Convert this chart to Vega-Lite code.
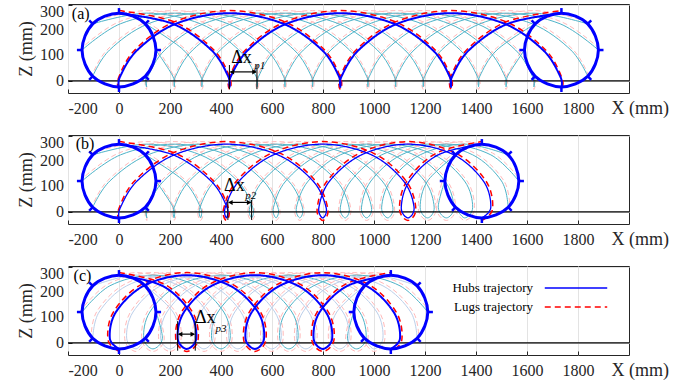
{
"$schema":"https://vega.github.io/schema/vega-lite/v6.json",
"autosize":{"type":"pad"},
"padding":{"left":16,"top":3,"right":0,"bottom":0},
"background":"white",
"bounds":"flush",
"spacing":42,
"resolve":{"scale":{"color":"independent","strokeDash":"independent"},"legend":{"color":"independent","strokeDash":"independent"}},
"config":{
 "font":"Liberation Serif",
 "view":{"stroke":"#262626","strokeWidth":1},
 "axis":{"domain":false,"grid":true,"gridColor":"#e3e3e3","tickColor":"#262626","tickSize":-4,"labelOverlap":false,"labelFont":"Liberation Serif","labelFontSize":16,"labelColor":"#262626","titleFont":"Liberation Serif","titleFontSize":18,"titleFontWeight":"normal","titleColor":"#262626"},
 "axisX":{"labelPadding":11},
 "axisY":{"labelPadding":8},
 "text":{"font":"Liberation Serif"}
},
"datasets":{
"yl":[{"v":0},{"v":100},{"v":200}],
"ah":[
{"j":0,"x":0,"z":-24},{"j":0,"x":5,"z":18},{"j":0,"x":72,"z":121},{"j":0,"x":222,"z":224},{"j":0,"x":434,"z":266},{"j":0,"x":645,"z":224},{"j":0,"x":796,"z":121},{"j":0,"x":862,"z":18},{"j":0,"x":868,"z":-24},{"j":0,"x":873,"z":18},{"j":0,"x":940,"z":121},{"j":0,"x":1090,"z":224},{"j":0,"x":1302,"z":266},{"j":0,"x":1513,"z":224},{"j":0,"x":1663,"z":121},{"j":0,"x":1730,"z":18},{"j":0,"x":1735,"z":-24},
{"j":1,"x":-103,"z":18},{"j":1,"x":-37,"z":121},{"j":1,"x":114,"z":224},{"j":1,"x":325,"z":266},{"j":1,"x":537,"z":224},{"j":1,"x":687,"z":121},{"j":1,"x":754,"z":18},{"j":1,"x":759,"z":-24},{"j":1,"x":765,"z":18},{"j":1,"x":831,"z":121},{"j":1,"x":982,"z":224},{"j":1,"x":1193,"z":266},{"j":1,"x":1405,"z":224},{"j":1,"x":1555,"z":121},{"j":1,"x":1621,"z":18},{"j":1,"x":1627,"z":-24},{"j":1,"x":1632,"z":18},
{"j":2,"x":-145,"z":121},{"j":2,"x":5,"z":224},{"j":2,"x":217,"z":266},{"j":2,"x":428,"z":224},{"j":2,"x":579,"z":121},{"j":2,"x":645,"z":18},{"j":2,"x":651,"z":-24},{"j":2,"x":656,"z":18},{"j":2,"x":723,"z":121},{"j":2,"x":873,"z":224},{"j":2,"x":1085,"z":266},{"j":2,"x":1296,"z":224},{"j":2,"x":1447,"z":121},{"j":2,"x":1513,"z":18},{"j":2,"x":1518,"z":-24},{"j":2,"x":1524,"z":18},{"j":2,"x":1590,"z":121},
{"j":3,"x":-103,"z":224},{"j":3,"x":108,"z":266},{"j":3,"x":320,"z":224},{"j":3,"x":470,"z":121},{"j":3,"x":537,"z":18},{"j":3,"x":542,"z":-24},{"j":3,"x":548,"z":18},{"j":3,"x":614,"z":121},{"j":3,"x":765,"z":224},{"j":3,"x":976,"z":266},{"j":3,"x":1188,"z":224},{"j":3,"x":1338,"z":121},{"j":3,"x":1405,"z":18},{"j":3,"x":1410,"z":-24},{"j":3,"x":1415,"z":18},{"j":3,"x":1482,"z":121},{"j":3,"x":1632,"z":224},
{"j":4,"x":0,"z":266},{"j":4,"x":211,"z":224},{"j":4,"x":362,"z":121},{"j":4,"x":428,"z":18},{"j":4,"x":434,"z":-24},{"j":4,"x":439,"z":18},{"j":4,"x":506,"z":121},{"j":4,"x":656,"z":224},{"j":4,"x":868,"z":266},{"j":4,"x":1079,"z":224},{"j":4,"x":1230,"z":121},{"j":4,"x":1296,"z":18},{"j":4,"x":1302,"z":-24},{"j":4,"x":1307,"z":18},{"j":4,"x":1373,"z":121},{"j":4,"x":1524,"z":224},{"j":4,"x":1735,"z":266},
{"j":5,"x":103,"z":224},{"j":5,"x":253,"z":121},{"j":5,"x":320,"z":18},{"j":5,"x":325,"z":-24},{"j":5,"x":331,"z":18},{"j":5,"x":397,"z":121},{"j":5,"x":548,"z":224},{"j":5,"x":759,"z":266},{"j":5,"x":971,"z":224},{"j":5,"x":1121,"z":121},{"j":5,"x":1188,"z":18},{"j":5,"x":1193,"z":-24},{"j":5,"x":1199,"z":18},{"j":5,"x":1265,"z":121},{"j":5,"x":1415,"z":224},{"j":5,"x":1627,"z":266},{"j":5,"x":1838,"z":224},
{"j":6,"x":145,"z":121},{"j":6,"x":211,"z":18},{"j":6,"x":217,"z":-24},{"j":6,"x":222,"z":18},{"j":6,"x":289,"z":121},{"j":6,"x":439,"z":224},{"j":6,"x":651,"z":266},{"j":6,"x":862,"z":224},{"j":6,"x":1013,"z":121},{"j":6,"x":1079,"z":18},{"j":6,"x":1085,"z":-24},{"j":6,"x":1090,"z":18},{"j":6,"x":1157,"z":121},{"j":6,"x":1307,"z":224},{"j":6,"x":1518,"z":266},{"j":6,"x":1730,"z":224},{"j":6,"x":1880,"z":121},
{"j":7,"x":103,"z":18},{"j":7,"x":108,"z":-24},{"j":7,"x":114,"z":18},{"j":7,"x":180,"z":121},{"j":7,"x":331,"z":224},{"j":7,"x":542,"z":266},{"j":7,"x":754,"z":224},{"j":7,"x":904,"z":121},{"j":7,"x":971,"z":18},{"j":7,"x":976,"z":-24},{"j":7,"x":982,"z":18},{"j":7,"x":1048,"z":121},{"j":7,"x":1199,"z":224},{"j":7,"x":1410,"z":266},{"j":7,"x":1621,"z":224},{"j":7,"x":1772,"z":121},{"j":7,"x":1838,"z":18}
],
"al":[
{"j":0,"x":0,"z":-34},{"j":0,"x":-2,"z":11},{"j":0,"x":62,"z":121},{"j":0,"x":215,"z":231},{"j":0,"x":434,"z":276},{"j":0,"x":652,"z":231},{"j":0,"x":806,"z":121},{"j":0,"x":869,"z":11},{"j":0,"x":868,"z":-34},{"j":0,"x":866,"z":11},{"j":0,"x":930,"z":121},{"j":0,"x":1083,"z":231},{"j":0,"x":1302,"z":276},{"j":0,"x":1520,"z":231},{"j":0,"x":1673,"z":121},{"j":0,"x":1737,"z":11},{"j":0,"x":1735,"z":-34},
{"j":1,"x":-110,"z":11},{"j":1,"x":-47,"z":121},{"j":1,"x":107,"z":231},{"j":1,"x":325,"z":276},{"j":1,"x":544,"z":231},{"j":1,"x":697,"z":121},{"j":1,"x":761,"z":11},{"j":1,"x":759,"z":-34},{"j":1,"x":758,"z":11},{"j":1,"x":821,"z":121},{"j":1,"x":975,"z":231},{"j":1,"x":1193,"z":276},{"j":1,"x":1412,"z":231},{"j":1,"x":1565,"z":121},{"j":1,"x":1628,"z":11},{"j":1,"x":1627,"z":-34},{"j":1,"x":1625,"z":11},
{"j":2,"x":-155,"z":121},{"j":2,"x":-2,"z":231},{"j":2,"x":217,"z":276},{"j":2,"x":435,"z":231},{"j":2,"x":589,"z":121},{"j":2,"x":652,"z":11},{"j":2,"x":651,"z":-34},{"j":2,"x":649,"z":11},{"j":2,"x":713,"z":121},{"j":2,"x":866,"z":231},{"j":2,"x":1085,"z":276},{"j":2,"x":1303,"z":231},{"j":2,"x":1457,"z":121},{"j":2,"x":1520,"z":11},{"j":2,"x":1518,"z":-34},{"j":2,"x":1517,"z":11},{"j":2,"x":1580,"z":121},
{"j":3,"x":-110,"z":231},{"j":3,"x":108,"z":276},{"j":3,"x":327,"z":231},{"j":3,"x":480,"z":121},{"j":3,"x":544,"z":11},{"j":3,"x":542,"z":-34},{"j":3,"x":541,"z":11},{"j":3,"x":604,"z":121},{"j":3,"x":758,"z":231},{"j":3,"x":976,"z":276},{"j":3,"x":1195,"z":231},{"j":3,"x":1348,"z":121},{"j":3,"x":1412,"z":11},{"j":3,"x":1410,"z":-34},{"j":3,"x":1408,"z":11},{"j":3,"x":1472,"z":121},{"j":3,"x":1625,"z":231},
{"j":4,"x":0,"z":276},{"j":4,"x":218,"z":231},{"j":4,"x":372,"z":121},{"j":4,"x":435,"z":11},{"j":4,"x":434,"z":-34},{"j":4,"x":432,"z":11},{"j":4,"x":496,"z":121},{"j":4,"x":649,"z":231},{"j":4,"x":868,"z":276},{"j":4,"x":1086,"z":231},{"j":4,"x":1240,"z":121},{"j":4,"x":1303,"z":11},{"j":4,"x":1302,"z":-34},{"j":4,"x":1300,"z":11},{"j":4,"x":1363,"z":121},{"j":4,"x":1517,"z":231},{"j":4,"x":1735,"z":276},
{"j":5,"x":110,"z":231},{"j":5,"x":263,"z":121},{"j":5,"x":327,"z":11},{"j":5,"x":325,"z":-34},{"j":5,"x":324,"z":11},{"j":5,"x":387,"z":121},{"j":5,"x":541,"z":231},{"j":5,"x":759,"z":276},{"j":5,"x":978,"z":231},{"j":5,"x":1131,"z":121},{"j":5,"x":1195,"z":11},{"j":5,"x":1193,"z":-34},{"j":5,"x":1192,"z":11},{"j":5,"x":1255,"z":121},{"j":5,"x":1408,"z":231},{"j":5,"x":1627,"z":276},{"j":5,"x":1845,"z":231},
{"j":6,"x":155,"z":121},{"j":6,"x":218,"z":11},{"j":6,"x":217,"z":-34},{"j":6,"x":215,"z":11},{"j":6,"x":279,"z":121},{"j":6,"x":432,"z":231},{"j":6,"x":651,"z":276},{"j":6,"x":869,"z":231},{"j":6,"x":1023,"z":121},{"j":6,"x":1086,"z":11},{"j":6,"x":1085,"z":-34},{"j":6,"x":1083,"z":11},{"j":6,"x":1147,"z":121},{"j":6,"x":1300,"z":231},{"j":6,"x":1518,"z":276},{"j":6,"x":1737,"z":231},{"j":6,"x":1890,"z":121},
{"j":7,"x":110,"z":11},{"j":7,"x":108,"z":-34},{"j":7,"x":107,"z":11},{"j":7,"x":170,"z":121},{"j":7,"x":324,"z":231},{"j":7,"x":542,"z":276},{"j":7,"x":761,"z":231},{"j":7,"x":914,"z":121},{"j":7,"x":978,"z":11},{"j":7,"x":976,"z":-34},{"j":7,"x":975,"z":11},{"j":7,"x":1038,"z":121},{"j":7,"x":1192,"z":231},{"j":7,"x":1410,"z":276},{"j":7,"x":1628,"z":231},{"j":7,"x":1782,"z":121},{"j":7,"x":1845,"z":11}
],
"bh":[
{"j":0,"x":0,"z":-24},{"j":0,"x":6,"z":18},{"j":0,"x":71,"z":121},{"j":0,"x":217,"z":224},{"j":0,"x":421,"z":266},{"j":0,"x":623,"z":224},{"j":0,"x":761,"z":121},{"j":0,"x":812,"z":18},{"j":0,"x":799,"z":-24},{"j":0,"x":784,"z":18},{"j":0,"x":826,"z":121},{"j":0,"x":951,"z":224},{"j":0,"x":1133,"z":266},{"j":0,"x":1313,"z":224},{"j":0,"x":1429,"z":121},{"j":0,"x":1458,"z":18},{"j":0,"x":1423,"z":-24},
{"j":1,"x":-103,"z":18},{"j":1,"x":-36,"z":121},{"j":1,"x":113,"z":224},{"j":1,"x":320,"z":266},{"j":1,"x":524,"z":224},{"j":1,"x":665,"z":121},{"j":1,"x":719,"z":18},{"j":1,"x":709,"z":-24},{"j":1,"x":696,"z":18},{"j":1,"x":742,"z":121},{"j":1,"x":868,"z":224},{"j":1,"x":1054,"z":266},{"j":1,"x":1236,"z":224},{"j":1,"x":1355,"z":121},{"j":1,"x":1387,"z":18},{"j":1,"x":1355,"z":-24},{"j":1,"x":1320,"z":18},
{"j":2,"x":-145,"z":121},{"j":2,"x":6,"z":224},{"j":2,"x":216,"z":266},{"j":2,"x":423,"z":224},{"j":2,"x":566,"z":121},{"j":2,"x":623,"z":18},{"j":2,"x":616,"z":-24},{"j":2,"x":606,"z":18},{"j":2,"x":654,"z":121},{"j":2,"x":784,"z":224},{"j":2,"x":971,"z":266},{"j":2,"x":1157,"z":224},{"j":2,"x":1278,"z":121},{"j":2,"x":1313,"z":18},{"j":2,"x":1284,"z":-24},{"j":2,"x":1252,"z":18},{"j":2,"x":1278,"z":121},
{"j":3,"x":-103,"z":224},{"j":3,"x":109,"z":266},{"j":3,"x":319,"z":224},{"j":3,"x":465,"z":121},{"j":3,"x":524,"z":18},{"j":3,"x":520,"z":-24},{"j":3,"x":513,"z":18},{"j":3,"x":564,"z":121},{"j":3,"x":696,"z":224},{"j":3,"x":887,"z":266},{"j":3,"x":1074,"z":224},{"j":3,"x":1199,"z":121},{"j":3,"x":1236,"z":18},{"j":3,"x":1210,"z":-24},{"j":3,"x":1181,"z":18},{"j":3,"x":1210,"z":121},{"j":3,"x":1320,"z":224},
{"j":4,"x":0,"z":266},{"j":4,"x":212,"z":224},{"j":4,"x":361,"z":121},{"j":4,"x":423,"z":18},{"j":4,"x":421,"z":-24},{"j":4,"x":417,"z":18},{"j":4,"x":471,"z":121},{"j":4,"x":606,"z":224},{"j":4,"x":799,"z":266},{"j":4,"x":990,"z":224},{"j":4,"x":1116,"z":121},{"j":4,"x":1157,"z":18},{"j":4,"x":1133,"z":-24},{"j":4,"x":1107,"z":18},{"j":4,"x":1139,"z":121},{"j":4,"x":1252,"z":224},{"j":4,"x":1423,"z":266},
{"j":5,"x":103,"z":224},{"j":5,"x":254,"z":121},{"j":5,"x":319,"z":18},{"j":5,"x":320,"z":-24},{"j":5,"x":318,"z":18},{"j":5,"x":375,"z":121},{"j":5,"x":513,"z":224},{"j":5,"x":709,"z":266},{"j":5,"x":902,"z":224},{"j":5,"x":1032,"z":121},{"j":5,"x":1074,"z":18},{"j":5,"x":1054,"z":-24},{"j":5,"x":1030,"z":18},{"j":5,"x":1065,"z":121},{"j":5,"x":1181,"z":224},{"j":5,"x":1355,"z":266},{"j":5,"x":1526,"z":224},
{"j":6,"x":145,"z":121},{"j":6,"x":212,"z":18},{"j":6,"x":216,"z":-24},{"j":6,"x":217,"z":18},{"j":6,"x":276,"z":121},{"j":6,"x":417,"z":224},{"j":6,"x":616,"z":266},{"j":6,"x":812,"z":224},{"j":6,"x":944,"z":121},{"j":6,"x":990,"z":18},{"j":6,"x":971,"z":-24},{"j":6,"x":951,"z":18},{"j":6,"x":988,"z":121},{"j":6,"x":1107,"z":224},{"j":6,"x":1284,"z":266},{"j":6,"x":1458,"z":224},{"j":6,"x":1568,"z":121},
{"j":7,"x":103,"z":18},{"j":7,"x":109,"z":-24},{"j":7,"x":113,"z":18},{"j":7,"x":175,"z":121},{"j":7,"x":318,"z":224},{"j":7,"x":520,"z":266},{"j":7,"x":719,"z":224},{"j":7,"x":854,"z":121},{"j":7,"x":902,"z":18},{"j":7,"x":887,"z":-24},{"j":7,"x":868,"z":18},{"j":7,"x":909,"z":121},{"j":7,"x":1030,"z":224},{"j":7,"x":1210,"z":266},{"j":7,"x":1387,"z":224},{"j":7,"x":1500,"z":121},{"j":7,"x":1526,"z":18}
],
"bl":[
{"j":0,"x":0,"z":-34},{"j":0,"x":-1,"z":11},{"j":0,"x":61,"z":121},{"j":0,"x":210,"z":231},{"j":0,"x":421,"z":276},{"j":0,"x":630,"z":231},{"j":0,"x":771,"z":121},{"j":0,"x":819,"z":11},{"j":0,"x":799,"z":-34},{"j":0,"x":777,"z":11},{"j":0,"x":816,"z":121},{"j":0,"x":944,"z":231},{"j":0,"x":1133,"z":276},{"j":0,"x":1320,"z":231},{"j":0,"x":1439,"z":121},{"j":0,"x":1465,"z":11},{"j":0,"x":1423,"z":-34},
{"j":1,"x":-110,"z":11},{"j":1,"x":-46,"z":121},{"j":1,"x":106,"z":231},{"j":1,"x":320,"z":276},{"j":1,"x":531,"z":231},{"j":1,"x":675,"z":121},{"j":1,"x":726,"z":11},{"j":1,"x":709,"z":-34},{"j":1,"x":689,"z":11},{"j":1,"x":732,"z":121},{"j":1,"x":861,"z":231},{"j":1,"x":1054,"z":276},{"j":1,"x":1243,"z":231},{"j":1,"x":1365,"z":121},{"j":1,"x":1394,"z":11},{"j":1,"x":1355,"z":-34},{"j":1,"x":1313,"z":11},
{"j":2,"x":-155,"z":121},{"j":2,"x":-1,"z":231},{"j":2,"x":216,"z":276},{"j":2,"x":430,"z":231},{"j":2,"x":576,"z":121},{"j":2,"x":630,"z":11},{"j":2,"x":616,"z":-34},{"j":2,"x":599,"z":11},{"j":2,"x":644,"z":121},{"j":2,"x":777,"z":231},{"j":2,"x":971,"z":276},{"j":2,"x":1164,"z":231},{"j":2,"x":1288,"z":121},{"j":2,"x":1320,"z":11},{"j":2,"x":1284,"z":-34},{"j":2,"x":1245,"z":11},{"j":2,"x":1268,"z":121},
{"j":3,"x":-110,"z":231},{"j":3,"x":109,"z":276},{"j":3,"x":326,"z":231},{"j":3,"x":475,"z":121},{"j":3,"x":531,"z":11},{"j":3,"x":520,"z":-34},{"j":3,"x":506,"z":11},{"j":3,"x":554,"z":121},{"j":3,"x":689,"z":231},{"j":3,"x":887,"z":276},{"j":3,"x":1081,"z":231},{"j":3,"x":1209,"z":121},{"j":3,"x":1243,"z":11},{"j":3,"x":1210,"z":-34},{"j":3,"x":1174,"z":11},{"j":3,"x":1200,"z":121},{"j":3,"x":1313,"z":231},
{"j":4,"x":0,"z":276},{"j":4,"x":219,"z":231},{"j":4,"x":371,"z":121},{"j":4,"x":430,"z":11},{"j":4,"x":421,"z":-34},{"j":4,"x":410,"z":11},{"j":4,"x":461,"z":121},{"j":4,"x":599,"z":231},{"j":4,"x":799,"z":276},{"j":4,"x":997,"z":231},{"j":4,"x":1126,"z":121},{"j":4,"x":1164,"z":11},{"j":4,"x":1133,"z":-34},{"j":4,"x":1100,"z":11},{"j":4,"x":1129,"z":121},{"j":4,"x":1245,"z":231},{"j":4,"x":1423,"z":276},
{"j":5,"x":110,"z":231},{"j":5,"x":264,"z":121},{"j":5,"x":326,"z":11},{"j":5,"x":320,"z":-34},{"j":5,"x":311,"z":11},{"j":5,"x":365,"z":121},{"j":5,"x":506,"z":231},{"j":5,"x":709,"z":276},{"j":5,"x":909,"z":231},{"j":5,"x":1042,"z":121},{"j":5,"x":1081,"z":11},{"j":5,"x":1054,"z":-34},{"j":5,"x":1023,"z":11},{"j":5,"x":1055,"z":121},{"j":5,"x":1174,"z":231},{"j":5,"x":1355,"z":276},{"j":5,"x":1533,"z":231},
{"j":6,"x":155,"z":121},{"j":6,"x":219,"z":11},{"j":6,"x":216,"z":-34},{"j":6,"x":210,"z":11},{"j":6,"x":266,"z":121},{"j":6,"x":410,"z":231},{"j":6,"x":616,"z":276},{"j":6,"x":819,"z":231},{"j":6,"x":954,"z":121},{"j":6,"x":997,"z":11},{"j":6,"x":971,"z":-34},{"j":6,"x":944,"z":11},{"j":6,"x":978,"z":121},{"j":6,"x":1100,"z":231},{"j":6,"x":1284,"z":276},{"j":6,"x":1465,"z":231},{"j":6,"x":1578,"z":121},
{"j":7,"x":110,"z":11},{"j":7,"x":109,"z":-34},{"j":7,"x":106,"z":11},{"j":7,"x":165,"z":121},{"j":7,"x":311,"z":231},{"j":7,"x":520,"z":276},{"j":7,"x":726,"z":231},{"j":7,"x":864,"z":121},{"j":7,"x":909,"z":11},{"j":7,"x":887,"z":-34},{"j":7,"x":861,"z":11},{"j":7,"x":899,"z":121},{"j":7,"x":1023,"z":231},{"j":7,"x":1210,"z":276},{"j":7,"x":1394,"z":231},{"j":7,"x":1510,"z":121},{"j":7,"x":1533,"z":11}
],
"ch":[
{"j":0,"x":0,"z":-24},{"j":0,"x":-36,"z":18},{"j":0,"x":-12,"z":121},{"j":0,"x":97,"z":224},{"j":0,"x":266,"z":266},{"j":0,"x":436,"z":224},{"j":0,"x":545,"z":121},{"j":0,"x":569,"z":18},{"j":0,"x":533,"z":-24},{"j":0,"x":496,"z":18},{"j":0,"x":521,"z":121},{"j":0,"x":630,"z":224},{"j":0,"x":799,"z":266},{"j":0,"x":969,"z":224},{"j":0,"x":1077,"z":121},{"j":0,"x":1102,"z":18},{"j":0,"x":1066,"z":-24},
{"j":1,"x":-103,"z":18},{"j":1,"x":-78,"z":121},{"j":1,"x":30,"z":224},{"j":1,"x":200,"z":266},{"j":1,"x":369,"z":224},{"j":1,"x":478,"z":121},{"j":1,"x":503,"z":18},{"j":1,"x":466,"z":-24},{"j":1,"x":430,"z":18},{"j":1,"x":454,"z":121},{"j":1,"x":563,"z":224},{"j":1,"x":733,"z":266},{"j":1,"x":902,"z":224},{"j":1,"x":1011,"z":121},{"j":1,"x":1035,"z":18},{"j":1,"x":999,"z":-24},{"j":1,"x":963,"z":18},
{"j":2,"x":-145,"z":121},{"j":2,"x":-36,"z":224},{"j":2,"x":133,"z":266},{"j":2,"x":303,"z":224},{"j":2,"x":411,"z":121},{"j":2,"x":436,"z":18},{"j":2,"x":400,"z":-24},{"j":2,"x":363,"z":18},{"j":2,"x":388,"z":121},{"j":2,"x":496,"z":224},{"j":2,"x":666,"z":266},{"j":2,"x":836,"z":224},{"j":2,"x":944,"z":121},{"j":2,"x":969,"z":18},{"j":2,"x":932,"z":-24},{"j":2,"x":896,"z":18},{"j":2,"x":921,"z":121},
{"j":3,"x":-103,"z":224},{"j":3,"x":67,"z":266},{"j":3,"x":236,"z":224},{"j":3,"x":345,"z":121},{"j":3,"x":369,"z":18},{"j":3,"x":333,"z":-24},{"j":3,"x":297,"z":18},{"j":3,"x":321,"z":121},{"j":3,"x":430,"z":224},{"j":3,"x":599,"z":266},{"j":3,"x":769,"z":224},{"j":3,"x":878,"z":121},{"j":3,"x":902,"z":18},{"j":3,"x":866,"z":-24},{"j":3,"x":829,"z":18},{"j":3,"x":854,"z":121},{"j":3,"x":963,"z":224},
{"j":4,"x":0,"z":266},{"j":4,"x":170,"z":224},{"j":4,"x":278,"z":121},{"j":4,"x":303,"z":18},{"j":4,"x":266,"z":-24},{"j":4,"x":230,"z":18},{"j":4,"x":255,"z":121},{"j":4,"x":363,"z":224},{"j":4,"x":533,"z":266},{"j":4,"x":702,"z":224},{"j":4,"x":811,"z":121},{"j":4,"x":836,"z":18},{"j":4,"x":799,"z":-24},{"j":4,"x":763,"z":18},{"j":4,"x":787,"z":121},{"j":4,"x":896,"z":224},{"j":4,"x":1066,"z":266},
{"j":5,"x":103,"z":224},{"j":5,"x":212,"z":121},{"j":5,"x":236,"z":18},{"j":5,"x":200,"z":-24},{"j":5,"x":163,"z":18},{"j":5,"x":188,"z":121},{"j":5,"x":297,"z":224},{"j":5,"x":466,"z":266},{"j":5,"x":636,"z":224},{"j":5,"x":744,"z":121},{"j":5,"x":769,"z":18},{"j":5,"x":733,"z":-24},{"j":5,"x":696,"z":18},{"j":5,"x":721,"z":121},{"j":5,"x":829,"z":224},{"j":5,"x":999,"z":266},{"j":5,"x":1169,"z":224},
{"j":6,"x":145,"z":121},{"j":6,"x":170,"z":18},{"j":6,"x":133,"z":-24},{"j":6,"x":97,"z":18},{"j":6,"x":121,"z":121},{"j":6,"x":230,"z":224},{"j":6,"x":400,"z":266},{"j":6,"x":569,"z":224},{"j":6,"x":678,"z":121},{"j":6,"x":702,"z":18},{"j":6,"x":666,"z":-24},{"j":6,"x":630,"z":18},{"j":6,"x":654,"z":121},{"j":6,"x":763,"z":224},{"j":6,"x":932,"z":266},{"j":6,"x":1102,"z":224},{"j":6,"x":1211,"z":121},
{"j":7,"x":103,"z":18},{"j":7,"x":67,"z":-24},{"j":7,"x":30,"z":18},{"j":7,"x":55,"z":121},{"j":7,"x":163,"z":224},{"j":7,"x":333,"z":266},{"j":7,"x":503,"z":224},{"j":7,"x":611,"z":121},{"j":7,"x":636,"z":18},{"j":7,"x":599,"z":-24},{"j":7,"x":563,"z":18},{"j":7,"x":588,"z":121},{"j":7,"x":696,"z":224},{"j":7,"x":866,"z":266},{"j":7,"x":1035,"z":224},{"j":7,"x":1144,"z":121},{"j":7,"x":1169,"z":18}
],
"cl":[
{"j":0,"x":0,"z":-34},{"j":0,"x":-43,"z":11},{"j":0,"x":-22,"z":121},{"j":0,"x":90,"z":231},{"j":0,"x":266,"z":276},{"j":0,"x":443,"z":231},{"j":0,"x":555,"z":121},{"j":0,"x":576,"z":11},{"j":0,"x":533,"z":-34},{"j":0,"x":489,"z":11},{"j":0,"x":511,"z":121},{"j":0,"x":623,"z":231},{"j":0,"x":799,"z":276},{"j":0,"x":976,"z":231},{"j":0,"x":1087,"z":121},{"j":0,"x":1109,"z":11},{"j":0,"x":1066,"z":-34},
{"j":1,"x":-110,"z":11},{"j":1,"x":-88,"z":121},{"j":1,"x":23,"z":231},{"j":1,"x":200,"z":276},{"j":1,"x":376,"z":231},{"j":1,"x":488,"z":121},{"j":1,"x":510,"z":11},{"j":1,"x":466,"z":-34},{"j":1,"x":423,"z":11},{"j":1,"x":444,"z":121},{"j":1,"x":556,"z":231},{"j":1,"x":733,"z":276},{"j":1,"x":909,"z":231},{"j":1,"x":1021,"z":121},{"j":1,"x":1042,"z":11},{"j":1,"x":999,"z":-34},{"j":1,"x":956,"z":11},
{"j":2,"x":-155,"z":121},{"j":2,"x":-43,"z":231},{"j":2,"x":133,"z":276},{"j":2,"x":310,"z":231},{"j":2,"x":421,"z":121},{"j":2,"x":443,"z":11},{"j":2,"x":400,"z":-34},{"j":2,"x":356,"z":11},{"j":2,"x":378,"z":121},{"j":2,"x":489,"z":231},{"j":2,"x":666,"z":276},{"j":2,"x":843,"z":231},{"j":2,"x":954,"z":121},{"j":2,"x":976,"z":11},{"j":2,"x":932,"z":-34},{"j":2,"x":889,"z":11},{"j":2,"x":911,"z":121},
{"j":3,"x":-110,"z":231},{"j":3,"x":67,"z":276},{"j":3,"x":243,"z":231},{"j":3,"x":355,"z":121},{"j":3,"x":376,"z":11},{"j":3,"x":333,"z":-34},{"j":3,"x":290,"z":11},{"j":3,"x":311,"z":121},{"j":3,"x":423,"z":231},{"j":3,"x":599,"z":276},{"j":3,"x":776,"z":231},{"j":3,"x":888,"z":121},{"j":3,"x":909,"z":11},{"j":3,"x":866,"z":-34},{"j":3,"x":822,"z":11},{"j":3,"x":844,"z":121},{"j":3,"x":956,"z":231},
{"j":4,"x":0,"z":276},{"j":4,"x":177,"z":231},{"j":4,"x":288,"z":121},{"j":4,"x":310,"z":11},{"j":4,"x":266,"z":-34},{"j":4,"x":223,"z":11},{"j":4,"x":245,"z":121},{"j":4,"x":356,"z":231},{"j":4,"x":533,"z":276},{"j":4,"x":709,"z":231},{"j":4,"x":821,"z":121},{"j":4,"x":843,"z":11},{"j":4,"x":799,"z":-34},{"j":4,"x":756,"z":11},{"j":4,"x":777,"z":121},{"j":4,"x":889,"z":231},{"j":4,"x":1066,"z":276},
{"j":5,"x":110,"z":231},{"j":5,"x":222,"z":121},{"j":5,"x":243,"z":11},{"j":5,"x":200,"z":-34},{"j":5,"x":156,"z":11},{"j":5,"x":178,"z":121},{"j":5,"x":290,"z":231},{"j":5,"x":466,"z":276},{"j":5,"x":643,"z":231},{"j":5,"x":754,"z":121},{"j":5,"x":776,"z":11},{"j":5,"x":733,"z":-34},{"j":5,"x":689,"z":11},{"j":5,"x":711,"z":121},{"j":5,"x":822,"z":231},{"j":5,"x":999,"z":276},{"j":5,"x":1176,"z":231},
{"j":6,"x":155,"z":121},{"j":6,"x":177,"z":11},{"j":6,"x":133,"z":-34},{"j":6,"x":90,"z":11},{"j":6,"x":111,"z":121},{"j":6,"x":223,"z":231},{"j":6,"x":400,"z":276},{"j":6,"x":576,"z":231},{"j":6,"x":688,"z":121},{"j":6,"x":709,"z":11},{"j":6,"x":666,"z":-34},{"j":6,"x":623,"z":11},{"j":6,"x":644,"z":121},{"j":6,"x":756,"z":231},{"j":6,"x":932,"z":276},{"j":6,"x":1109,"z":231},{"j":6,"x":1221,"z":121},
{"j":7,"x":110,"z":11},{"j":7,"x":67,"z":-34},{"j":7,"x":23,"z":11},{"j":7,"x":45,"z":121},{"j":7,"x":156,"z":231},{"j":7,"x":333,"z":276},{"j":7,"x":510,"z":231},{"j":7,"x":621,"z":121},{"j":7,"x":643,"z":11},{"j":7,"x":599,"z":-34},{"j":7,"x":556,"z":11},{"j":7,"x":578,"z":121},{"j":7,"x":689,"z":231},{"j":7,"x":866,"z":276},{"j":7,"x":1042,"z":231},{"j":7,"x":1154,"z":121},{"j":7,"x":1176,"z":11}
],
"st":[
{"p":"a","c":"s","x":0,"z":-24,"x2":0,"z2":-44},{"p":"a","c":"s","x":-103,"z":18,"x2":-117,"z2":4},{"p":"a","c":"s","x":-145,"z":121,"x2":-165,"z2":121},{"p":"a","c":"s","x":-103,"z":224,"x2":-117,"z2":238},{"p":"a","c":"s","x":0,"z":266,"x2":0,"z2":286},{"p":"a","c":"s","x":103,"z":224,"x2":117,"z2":238},{"p":"a","c":"s","x":145,"z":121,"x2":165,"z2":121},{"p":"a","c":"s","x":103,"z":18,"x2":117,"z2":4},
{"p":"a","c":"e","x":1735,"z":-24,"x2":1735,"z2":-44},{"p":"a","c":"e","x":1632,"z":18,"x2":1618,"z2":4},{"p":"a","c":"e","x":1590,"z":121,"x2":1570,"z2":121},{"p":"a","c":"e","x":1632,"z":224,"x2":1618,"z2":238},{"p":"a","c":"e","x":1735,"z":266,"x2":1735,"z2":286},{"p":"a","c":"e","x":1838,"z":224,"x2":1852,"z2":238},{"p":"a","c":"e","x":1880,"z":121,"x2":1900,"z2":121},{"p":"a","c":"e","x":1838,"z":18,"x2":1852,"z2":4},
{"p":"b","c":"s","x":0,"z":-24,"x2":0,"z2":-44},{"p":"b","c":"s","x":-103,"z":18,"x2":-117,"z2":4},{"p":"b","c":"s","x":-145,"z":121,"x2":-165,"z2":121},{"p":"b","c":"s","x":-103,"z":224,"x2":-117,"z2":238},{"p":"b","c":"s","x":0,"z":266,"x2":0,"z2":286},{"p":"b","c":"s","x":103,"z":224,"x2":117,"z2":238},{"p":"b","c":"s","x":145,"z":121,"x2":165,"z2":121},{"p":"b","c":"s","x":103,"z":18,"x2":117,"z2":4},
{"p":"b","c":"e","x":1423,"z":-24,"x2":1423,"z2":-44},{"p":"b","c":"e","x":1320,"z":18,"x2":1306,"z2":4},{"p":"b","c":"e","x":1278,"z":121,"x2":1258,"z2":121},{"p":"b","c":"e","x":1320,"z":224,"x2":1306,"z2":238},{"p":"b","c":"e","x":1423,"z":266,"x2":1423,"z2":286},{"p":"b","c":"e","x":1526,"z":224,"x2":1540,"z2":238},{"p":"b","c":"e","x":1568,"z":121,"x2":1588,"z2":121},{"p":"b","c":"e","x":1526,"z":18,"x2":1540,"z2":4},
{"p":"c","c":"s","x":0,"z":-24,"x2":0,"z2":-44},{"p":"c","c":"s","x":-103,"z":18,"x2":-117,"z2":4},{"p":"c","c":"s","x":-145,"z":121,"x2":-165,"z2":121},{"p":"c","c":"s","x":-103,"z":224,"x2":-117,"z2":238},{"p":"c","c":"s","x":0,"z":266,"x2":0,"z2":286},{"p":"c","c":"s","x":103,"z":224,"x2":117,"z2":238},{"p":"c","c":"s","x":145,"z":121,"x2":165,"z2":121},{"p":"c","c":"s","x":103,"z":18,"x2":117,"z2":4},
{"p":"c","c":"e","x":1066,"z":-24,"x2":1066,"z2":-44},{"p":"c","c":"e","x":963,"z":18,"x2":949,"z2":4},{"p":"c","c":"e","x":921,"z":121,"x2":901,"z2":121},{"p":"c","c":"e","x":963,"z":224,"x2":949,"z2":238},{"p":"c","c":"e","x":1066,"z":266,"x2":1066,"z2":286},{"p":"c","c":"e","x":1169,"z":224,"x2":1183,"z2":238},{"p":"c","c":"e","x":1211,"z":121,"x2":1231,"z2":121},{"p":"c","c":"e","x":1169,"z":18,"x2":1183,"z2":4}
]
},
"vconcat":[
{"width":561,"height":89,"layer":[
 {"data":{"name":"al"},"transform":[{"filter":"datum.j%4>0"}],"mark":{"type":"line","interpolate":"cardinal","strokeDash":[5,3],"strokeWidth":1,"color":"#ffbaba"},"encoding":{"x":{"field":"x","type":"quantitative","scale":{"domain":[-200,2000],"nice":false,"zero":false},"axis":{"values":[-200,0,200,400,600,800,1000,1200,1400,1600,1800],"labelExpr":"''+datum.value","title":"X (mm)","titleX":543,"titleY":20,"titleAlign":"left","titleBaseline":"alphabetic"}},"y":{"field":"z","type":"quantitative","scale":{"domain":[-48,302],"nice":false,"zero":false},"axis":{"values":[0,100,200,300],"labels":false,"title":"Z (mm)","titleX":-42,"titleY":44.5,"titleAngle":270,"titleAlign":"center","titleBaseline":"middle"}},"detail":{"field":"j","type":"nominal"},"order":{"value":null}}},
 {"data":{"name":"yl"},"mark":{"type":"text","align":"right","baseline":"middle","dx":-4,"fontSize":16,"color":"#262626"},"encoding":{"x":{"datum":-200},"y":{"field":"v","type":"quantitative"},"text":{"field":"v"}}},
 {"data":{"values":[{}]},"mark":{"type":"text","text":"300","align":"right","baseline":"top","dx":-4,"fontSize":16,"color":"#262626"},"encoding":{"x":{"datum":-200},"y":{"datum":302}}},
 {"data":{"name":"ah"},"transform":[{"filter":"datum.j%4>0"}],"mark":{"type":"line","interpolate":"cardinal","strokeWidth":1,"color":"#4eb3c8"},"encoding":{"x":{"field":"x","type":"quantitative"},"y":{"field":"z","type":"quantitative"},"detail":{"field":"j","type":"nominal"},"order":{"value":null}}},
 {"data":{"values":[{}]},"mark":{"type":"rule","color":"#000000","strokeWidth":1.2},"encoding":{"y":{"datum":0}}},
 {"data":{"name":"al"},"transform":[{"filter":"datum.j%4==0"}],"mark":{"type":"line","interpolate":"cardinal","strokeWidth":1.5},"encoding":{"x":{"field":"x","type":"quantitative"},"y":{"field":"z","type":"quantitative"},"detail":{"field":"j","type":"nominal"},"order":{"value":null},"color":{"datum":"Lugs trajectory","type":"nominal","scale":{"domain":["Hubs trajectory","Lugs trajectory"],"range":["#0000ff","#ff0000"]},"legend":null},"strokeDash":{"datum":"Lugs trajectory","type":"nominal","scale":{"domain":["Hubs trajectory","Lugs trajectory"],"range":[[1,0],[6,4]]},"legend":null}}},
 {"data":{"name":"ah"},"transform":[{"filter":"datum.j%4==0"}],"mark":{"type":"line","interpolate":"cardinal","strokeWidth":2},"encoding":{"x":{"field":"x","type":"quantitative"},"y":{"field":"z","type":"quantitative"},"detail":{"field":"j","type":"nominal"},"order":{"value":null},"color":{"datum":"Hubs trajectory","type":"nominal","scale":{"domain":["Hubs trajectory","Lugs trajectory"],"range":["#0000ff","#ff0000"]},"legend":null},"strokeDash":{"datum":"Hubs trajectory","type":"nominal","scale":{"domain":["Hubs trajectory","Lugs trajectory"],"range":[[1,0],[6,4]]},"legend":null}}},
 {"data":{"name":"st"},"transform":[{"filter":"datum.p=='a'"}],"mark":{"type":"line","interpolate":"cardinal-closed","strokeWidth":3,"color":"#0000ff"},"encoding":{"x":{"field":"x","type":"quantitative"},"y":{"field":"z","type":"quantitative"},"detail":{"field":"c","type":"nominal"},"order":{"value":null}}},
 {"data":{"name":"st"},"transform":[{"filter":"datum.p=='a'"}],"mark":{"type":"rule","strokeWidth":2.5,"color":"#0000ff"},"encoding":{"x":{"field":"x","type":"quantitative"},"y":{"field":"z","type":"quantitative"},"x2":{"field":"x2"},"y2":{"field":"z2"}}},
 {"data":{"values":[{"x":433},{"x":541}]},"mark":{"type":"rule","color":"#000000","strokeWidth":1},"encoding":{"x":{"field":"x","type":"quantitative"},"y":{"datum":-33},"y2":{"datum":62}}},
 {"data":{"values":[{}]},"mark":{"type":"rule","color":"#000000","strokeWidth":1.2},"encoding":{"x":{"datum":437},"x2":{"datum":537},"y":{"datum":35}}},
 {"data":{"values":[{}]},"mark":{"type":"point","shape":"triangle-left","filled":true,"color":"#000000","size":25,"opacity":1},"encoding":{"x":{"datum":443},"y":{"datum":35}}},
 {"data":{"values":[{}]},"mark":{"type":"point","shape":"triangle-right","filled":true,"color":"#000000","size":25,"opacity":1},"encoding":{"x":{"datum":531},"y":{"datum":35}}},
 {"data":{"values":[{}]},"mark":{"type":"text","text":"Δx","align":"left","baseline":"middle","fontSize":18,"color":"#000000"},"encoding":{"x":{"datum":440},"y":{"datum":90}}},
 {"data":{"values":[{}]},"mark":{"type":"text","text":"p1","align":"left","baseline":"middle","fontSize":11,"fontStyle":"italic","color":"#000000"},"encoding":{"x":{"datum":530},"y":{"datum":60}}},
 {"data":{"values":[{}]},"mark":{"type":"text","text":"(a)","align":"left","baseline":"middle","fontSize":16,"color":"#000000"},"encoding":{"x":{"datum":-185},"y":{"datum":262}}}
]},
{"width":561,"height":89,"layer":[
 {"data":{"name":"bl"},"transform":[{"filter":"datum.j%4>0"}],"mark":{"type":"line","interpolate":"cardinal","strokeDash":[5,3],"strokeWidth":1,"color":"#ffbaba"},"encoding":{"x":{"field":"x","type":"quantitative","scale":{"domain":[-200,2000],"nice":false,"zero":false},"axis":{"values":[-200,0,200,400,600,800,1000,1200,1400,1600,1800],"labelExpr":"''+datum.value","title":"X (mm)","titleX":543,"titleY":20,"titleAlign":"left","titleBaseline":"alphabetic"}},"y":{"field":"z","type":"quantitative","scale":{"domain":[-48,302],"nice":false,"zero":false},"axis":{"values":[0,100,200,300],"labels":false,"title":"Z (mm)","titleX":-42,"titleY":44.5,"titleAngle":270,"titleAlign":"center","titleBaseline":"middle"}},"detail":{"field":"j","type":"nominal"},"order":{"value":null}}},
 {"data":{"name":"yl"},"mark":{"type":"text","align":"right","baseline":"middle","dx":-4,"fontSize":16,"color":"#262626"},"encoding":{"x":{"datum":-200},"y":{"field":"v","type":"quantitative"},"text":{"field":"v"}}},
 {"data":{"values":[{}]},"mark":{"type":"text","text":"300","align":"right","baseline":"top","dx":-4,"fontSize":16,"color":"#262626"},"encoding":{"x":{"datum":-200},"y":{"datum":302}}},
 {"data":{"name":"bh"},"transform":[{"filter":"datum.j%4>0"}],"mark":{"type":"line","interpolate":"cardinal","strokeWidth":1,"color":"#4eb3c8"},"encoding":{"x":{"field":"x","type":"quantitative"},"y":{"field":"z","type":"quantitative"},"detail":{"field":"j","type":"nominal"},"order":{"value":null}}},
 {"data":{"values":[{}]},"mark":{"type":"rule","color":"#000000","strokeWidth":1.2},"encoding":{"y":{"datum":0}}},
 {"data":{"name":"bl"},"transform":[{"filter":"datum.j%4==0"}],"mark":{"type":"line","interpolate":"cardinal","strokeWidth":1.5},"encoding":{"x":{"field":"x","type":"quantitative"},"y":{"field":"z","type":"quantitative"},"detail":{"field":"j","type":"nominal"},"order":{"value":null},"color":{"datum":"Lugs trajectory","type":"nominal","scale":{"domain":["Hubs trajectory","Lugs trajectory"],"range":["#0000ff","#ff0000"]},"legend":null},"strokeDash":{"datum":"Lugs trajectory","type":"nominal","scale":{"domain":["Hubs trajectory","Lugs trajectory"],"range":[[1,0],[6,4]]},"legend":null}}},
 {"data":{"name":"bh"},"transform":[{"filter":"datum.j%4==0"}],"mark":{"type":"line","interpolate":"cardinal","strokeWidth":1.3},"encoding":{"x":{"field":"x","type":"quantitative"},"y":{"field":"z","type":"quantitative"},"detail":{"field":"j","type":"nominal"},"order":{"value":null},"color":{"datum":"Hubs trajectory","type":"nominal","scale":{"domain":["Hubs trajectory","Lugs trajectory"],"range":["#0000ff","#ff0000"]},"legend":null},"strokeDash":{"datum":"Hubs trajectory","type":"nominal","scale":{"domain":["Hubs trajectory","Lugs trajectory"],"range":[[1,0],[6,4]]},"legend":null}}},
 {"data":{"name":"st"},"transform":[{"filter":"datum.p=='b'"}],"mark":{"type":"line","interpolate":"cardinal-closed","strokeWidth":3,"color":"#0000ff"},"encoding":{"x":{"field":"x","type":"quantitative"},"y":{"field":"z","type":"quantitative"},"detail":{"field":"c","type":"nominal"},"order":{"value":null}}},
 {"data":{"name":"st"},"transform":[{"filter":"datum.p=='b'"}],"mark":{"type":"rule","strokeWidth":2.5,"color":"#0000ff"},"encoding":{"x":{"field":"x","type":"quantitative"},"y":{"field":"z","type":"quantitative"},"x2":{"field":"x2"},"y2":{"field":"z2"}}},
 {"data":{"values":[{"x":427},{"x":520}]},"mark":{"type":"rule","color":"#000000","strokeWidth":1},"encoding":{"x":{"field":"x","type":"quantitative"},"y":{"datum":-32},"y2":{"datum":47}}},
 {"data":{"values":[{}]},"mark":{"type":"rule","color":"#000000","strokeWidth":1.2},"encoding":{"x":{"datum":431},"x2":{"datum":516},"y":{"datum":37}}},
 {"data":{"values":[{}]},"mark":{"type":"point","shape":"triangle-left","filled":true,"color":"#000000","size":25,"opacity":1},"encoding":{"x":{"datum":437},"y":{"datum":37}}},
 {"data":{"values":[{}]},"mark":{"type":"point","shape":"triangle-right","filled":true,"color":"#000000","size":25,"opacity":1},"encoding":{"x":{"datum":510},"y":{"datum":37}}},
 {"data":{"values":[{}]},"mark":{"type":"text","text":"Δx","align":"left","baseline":"middle","fontSize":18,"color":"#000000"},"encoding":{"x":{"datum":412},"y":{"datum":100}}},
 {"data":{"values":[{}]},"mark":{"type":"text","text":"p2","align":"left","baseline":"middle","fontSize":11,"fontStyle":"italic","color":"#000000"},"encoding":{"x":{"datum":495},"y":{"datum":62}}},
 {"data":{"values":[{}]},"mark":{"type":"text","text":"(b)","align":"left","baseline":"middle","fontSize":16,"color":"#000000"},"encoding":{"x":{"datum":-170},"y":{"datum":268}}}
]},
{"width":561,"height":89,"layer":[
 {"data":{"name":"cl"},"transform":[{"filter":"datum.j%4>0"}],"mark":{"type":"line","interpolate":"cardinal","strokeDash":[5,3],"strokeWidth":1,"color":"#ffbaba"},"encoding":{"x":{"field":"x","type":"quantitative","scale":{"domain":[-200,2000],"nice":false,"zero":false},"axis":{"values":[-200,0,200,400,600,800,1000,1200,1400,1600,1800],"labelExpr":"''+datum.value","title":"X (mm)","titleX":543,"titleY":20,"titleAlign":"left","titleBaseline":"alphabetic"}},"y":{"field":"z","type":"quantitative","scale":{"domain":[-48,302],"nice":false,"zero":false},"axis":{"values":[0,100,200,300],"labels":false,"title":"Z (mm)","titleX":-42,"titleY":44.5,"titleAngle":270,"titleAlign":"center","titleBaseline":"middle"}},"detail":{"field":"j","type":"nominal"},"order":{"value":null}}},
 {"data":{"name":"yl"},"mark":{"type":"text","align":"right","baseline":"middle","dx":-4,"fontSize":16,"color":"#262626"},"encoding":{"x":{"datum":-200},"y":{"field":"v","type":"quantitative"},"text":{"field":"v"}}},
 {"data":{"values":[{}]},"mark":{"type":"text","text":"300","align":"right","baseline":"top","dx":-4,"fontSize":16,"color":"#262626"},"encoding":{"x":{"datum":-200},"y":{"datum":302}}},
 {"data":{"name":"ch"},"transform":[{"filter":"datum.j%4>0"}],"mark":{"type":"line","interpolate":"cardinal","strokeWidth":1},"encoding":{"x":{"field":"x","type":"quantitative"},"y":{"field":"z","type":"quantitative"},"detail":{"field":"j","type":"nominal"},"order":{"value":null},"color":{"condition":{"test":"datum.j%2==1","value":"#bccfea"},"value":"#4eb3c8"}}},
 {"data":{"values":[{}]},"mark":{"type":"rule","color":"#000000","strokeWidth":1.2},"encoding":{"y":{"datum":0}}},
 {"data":{"name":"cl"},"transform":[{"filter":"datum.j%4==0"}],"mark":{"type":"line","interpolate":"cardinal","strokeWidth":1.5},"encoding":{"x":{"field":"x","type":"quantitative"},"y":{"field":"z","type":"quantitative"},"detail":{"field":"j","type":"nominal"},"order":{"value":null},"color":{"datum":"Lugs trajectory","type":"nominal","scale":{"domain":["Hubs trajectory","Lugs trajectory"],"range":["#0000ff","#ff0000"]},"legend":{"orient":"none","legendX":501,"legendY":15,"title":null,"symbolType":"M-5,0H5","symbolSize":156,"symbolStrokeWidth":1.5,"labelAlign":"right","labelOffset":-50,"labelFontSize":13,"labelFont":"Liberation Serif","labelColor":"#000000","rowPadding":5,"padding":0}},"strokeDash":{"datum":"Lugs trajectory","type":"nominal","scale":{"domain":["Hubs trajectory","Lugs trajectory"],"range":[[1,0],[6,4]]},"legend":{"orient":"none","legendX":501,"legendY":15,"title":null,"symbolType":"M-5,0H5","symbolSize":156,"symbolStrokeWidth":1.5,"labelAlign":"right","labelOffset":-50,"labelFontSize":13,"labelFont":"Liberation Serif","labelColor":"#000000","rowPadding":5,"padding":0}}}},
 {"data":{"name":"ch"},"transform":[{"filter":"datum.j%4==0"}],"mark":{"type":"line","interpolate":"cardinal","strokeWidth":2},"encoding":{"x":{"field":"x","type":"quantitative"},"y":{"field":"z","type":"quantitative"},"detail":{"field":"j","type":"nominal"},"order":{"value":null},"color":{"datum":"Hubs trajectory","type":"nominal"},"strokeDash":{"datum":"Hubs trajectory","type":"nominal"}}},
 {"data":{"name":"st"},"transform":[{"filter":"datum.p=='c'"}],"mark":{"type":"line","interpolate":"cardinal-closed","strokeWidth":3,"color":"#0000ff"},"encoding":{"x":{"field":"x","type":"quantitative"},"y":{"field":"z","type":"quantitative"},"detail":{"field":"c","type":"nominal"},"order":{"value":null}}},
 {"data":{"name":"st"},"transform":[{"filter":"datum.p=='c'"}],"mark":{"type":"rule","strokeWidth":2.5,"color":"#0000ff"},"encoding":{"x":{"field":"x","type":"quantitative"},"y":{"field":"z","type":"quantitative"},"x2":{"field":"x2"},"y2":{"field":"z2"}}},
 {"data":{"values":[{"x":230},{"x":299}]},"mark":{"type":"rule","color":"#000000","strokeWidth":1},"encoding":{"x":{"field":"x","type":"quantitative"},"y":{"datum":-31},"y2":{"datum":85}}},
 {"data":{"values":[{}]},"mark":{"type":"rule","color":"#000000","strokeWidth":1.2},"encoding":{"x":{"datum":234},"x2":{"datum":295},"y":{"datum":34}}},
 {"data":{"values":[{}]},"mark":{"type":"point","shape":"triangle-left","filled":true,"color":"#000000","size":25,"opacity":1},"encoding":{"x":{"datum":240},"y":{"datum":34}}},
 {"data":{"values":[{}]},"mark":{"type":"point","shape":"triangle-right","filled":true,"color":"#000000","size":25,"opacity":1},"encoding":{"x":{"datum":289},"y":{"datum":34}}},
 {"data":{"values":[{}]},"mark":{"type":"text","text":"Δx","align":"left","baseline":"middle","fontSize":18,"color":"#000000"},"encoding":{"x":{"datum":298},"y":{"datum":96}}},
 {"data":{"values":[{}]},"mark":{"type":"text","text":"p3","align":"left","baseline":"middle","fontSize":11,"fontStyle":"italic","color":"#000000"},"encoding":{"x":{"datum":378},"y":{"datum":55}}},
 {"data":{"values":[{}]},"mark":{"type":"text","text":"(c)","align":"left","baseline":"middle","fontSize":16,"color":"#000000"},"encoding":{"x":{"datum":-178},"y":{"datum":262}}}
]}
]
}
